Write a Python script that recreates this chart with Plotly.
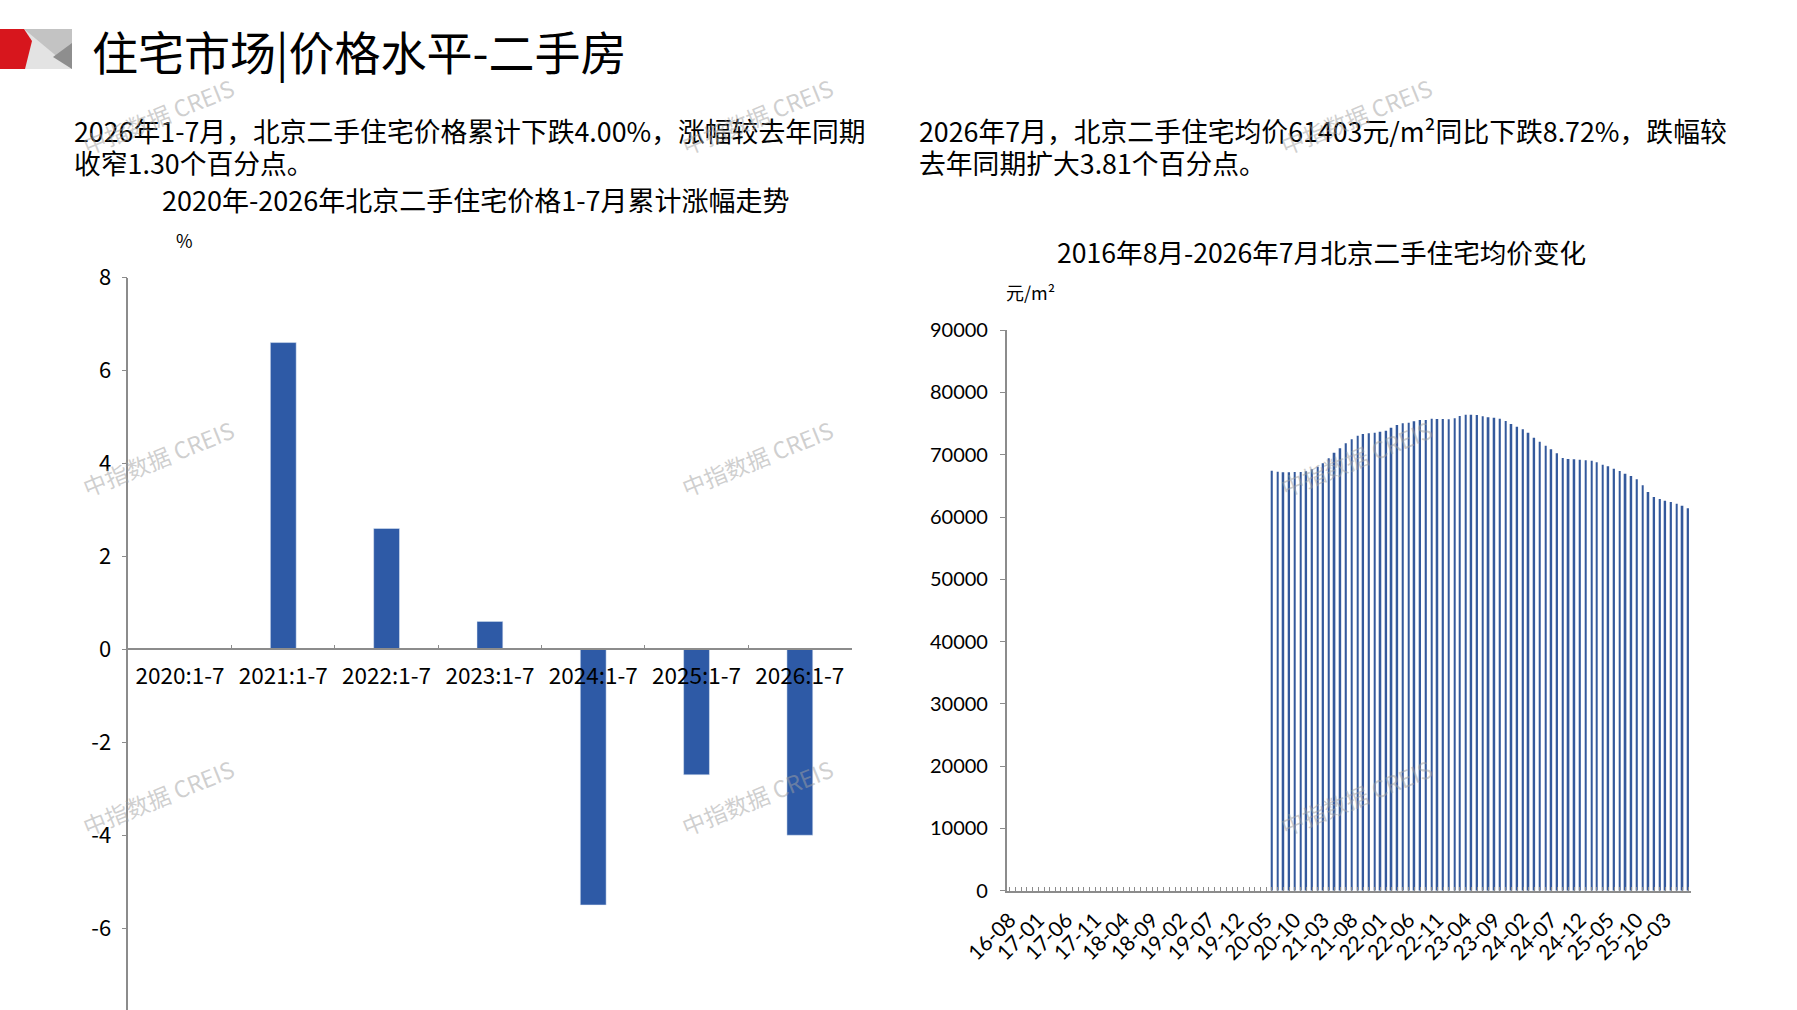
import pandas as pd
import plotly.graph_objects as go

W, H = 1797, 1010
CJK = "Noto Sans CJK SC"
NUM = "Lato"
BLUE = "#2E5AA6"
AXIS = "#8c8c8c"

# left chart: cumulative change of Beijing resale prices, Jan-Jul (%)
periods = ["2020:1-7", "2021:1-7", "2022:1-7", "2023:1-7", "2024:1-7", "2025:1-7", "2026:1-7"]
changes = [0.0, 6.6, 2.6, 0.6, -5.5, -2.7, -4.0]
pct_ticks = [-6, -4, -2, 0, 2, 4, 6, 8]
pct_labels = ["-6", "-4", "-2", "0", "2", "4", "6", "8"]

# right chart: monthly average resale price, 2016-08 .. 2026-07 (yuan/m2)
months = pd.date_range("2016-08-01", periods=120, freq="MS").strftime("%Y-%m").tolist()
prices = [None] * 46 + [
    67440, 67280, 67180, 67180, 67230, 67230, 67340, 67660, 68080, 68620,
    69420, 70330, 71030, 71830, 72470, 73060, 73330, 73440, 73540, 73700,
    73860, 74350, 74780, 75040, 75150, 75360, 75580, 75580, 75790, 75740,
    75740, 75690, 75850, 76220, 76430, 76430, 76380, 76170, 76010, 75950,
    75790, 75420, 74940, 74510, 74080, 73540, 72740, 72100, 71460, 70870,
    70230, 69480, 69320, 69260, 69210, 69100, 69050, 68780, 68410, 68140,
    67760, 67390, 66960, 66590, 66050, 65090, 64020, 63210, 62890, 62630,
    62410, 62140, 61820, 61403,
]

page_title = "住宅市场|价格水平-二手房"
left_text = ["2026年1-7月，北京二手住宅价格累计下跌4.00%，涨幅较去年同期",
             "收窄1.30个百分点。"]
right_text = ["2026年7月，北京二手住宅均价61403元/m²同比下跌8.72%，跌幅较",
              "去年同期扩大3.81个百分点。"]
left_title = "2020年-2026年北京二手住宅价格1-7月累计涨幅走势"
right_title = "2016年8月-2026年7月北京二手住宅均价变化"
watermark = "中指数据 CREIS"


def fx(p):
    return p / W


def fy(p):
    return 1 - p / H


fig = go.Figure()

fig.add_trace(go.Bar(x=periods, y=changes, marker_color=BLUE,
                     xaxis="x", yaxis="y", showlegend=False))
fig.add_trace(go.Bar(x=months, y=prices, marker_color="#34599c", marker_line_width=0,
                     width=0.3 * 30.44 * 86400000,
                     xaxis="x2", yaxis="y2", showlegend=False))

# left axes
y_lo, y_hi = -7.76, 8
y_top = fy(277.5)
fig.update_layout(
    xaxis=dict(
        domain=[fx(128.3), fx(851.5)], anchor="free",
        position=y_top * (0 - y_lo) / (y_hi - y_lo),
        type="category", showline=True, linecolor=AXIS, linewidth=1.5,
        ticks="inside", ticklen=4, tickcolor=AXIS, tickson="boundaries",
        showgrid=False, zeroline=False, ticklabelstandoff=7, automargin=False,
        tickfont=dict(family=CJK, size=22.5, color="#000"),
    ),
    yaxis=dict(
        domain=[0, y_top], range=[y_lo, y_hi], anchor="x",
        tickvals=pct_ticks, ticktext=pct_labels,
        showline=True, linecolor=AXIS, linewidth=1.5,
        ticks="outside", ticklen=5, tickcolor=AXIS,
        showgrid=False, zeroline=False, ticklabelstandoff=6, automargin=False,
        tickfont=dict(family=CJK, size=22, color="#000"),
    ),
    bargap=0.75,
)

# right axes
fig.update_layout(
    xaxis2=dict(
        domain=[fx(1006.7), fx(1691)], anchor="y2", type="date",
        range=["2016-07-16 12:00", "2026-07-16 12:00"],
        tick0="2016-08-01", dtick="M5", tickformat="%y-%m", tickangle=-45,
        showline=True, linecolor=AXIS, linewidth=1.5,
        ticks="inside", ticklen=4, tickcolor=AXIS,
        minor=dict(tick0="2016-08-01", dtick="M1", ticks="inside", ticklen=4,
                   tickcolor=AXIS, showgrid=False),
        showgrid=False, zeroline=False, ticklabelstandoff=7, automargin=False,
        tickfont=dict(family=NUM, size=21, color="#000"),
    ),
    yaxis2=dict(
        domain=[fy(890.7), fy(330.2)], anchor="x2", range=[0, 90000],
        dtick=10000, tickformat="d",
        showline=True, linecolor=AXIS, linewidth=1.5,
        ticks="outside", ticklen=5, tickcolor=AXIS,
        showgrid=False, zeroline=False, ticklabelstandoff=8, automargin=False,
        tickfont=dict(family=NUM, size=20, color="#000"),
    ),
)

ann = []


def text(t, x, y, size, xanchor="left", family=CJK, color="#000"):
    ann.append(dict(text=t, x=fx(x), y=fy(y), xref="paper", yref="paper",
                    xanchor=xanchor, yanchor="middle", showarrow=False,
                    font=dict(family=family, size=size, color=color)))


text(page_title, 90, 50, 46)
text(left_text[0], 72, 130, 26.8)
text(left_text[1], 72, 162, 26.8)
text(right_text[0], 917, 130, 26.8)
text(right_text[1], 917, 162, 26.8)
text(left_title, 476, 200, 27, xanchor="center")
text(right_title, 1321, 251, 26.6, xanchor="center")
text("%", 184, 240, 18, xanchor="center")
text("元/m²", 1030, 292, 18, xanchor="center")

for wx in (158, 757, 1356):
    for wy in (116, 458, 797):
        ann.append(dict(text=watermark, x=fx(wx), y=fy(wy), xref="paper", yref="paper",
                        xanchor="center", yanchor="middle",
                        showarrow=False, textangle=-22,
                        font=dict(family=CJK, size=23, color="rgba(160,160,160,0.5)")))

# corner logo
def poly(pts, color):
    path = "M " + " L ".join(f"{fx(a):.5f},{fy(b):.5f}" for a, b in pts) + " Z"
    return dict(type="path", path=path, xref="paper", yref="paper",
                fillcolor=color, line=dict(width=0), layer="above")


shapes = [
    poly([(24, 29), (72, 29), (72, 69), (24, 69)], "#e3e3e3"),
    poly([(24, 29), (72, 29), (72, 69)], "#c3c3c3"),
    poly([(53, 57), (72, 43), (72, 69)], "#8e8e8e"),
    poly([(0, 29), (24, 29), (32, 41), (25, 69), (0, 69)], "#d7161d"),
]

fig.update_layout(
    annotations=ann, shapes=shapes,
    width=W, height=H, autosize=False,
    margin=dict(l=0, r=0, t=0, b=0, autoexpand=False),
    paper_bgcolor="white", plot_bgcolor="white",
)

pin = ("document.body.style.margin='0';document.body.style.overflow='hidden';"
       "var d=document.getElementById('{plot_id}');"
       "d.style.position='fixed';d.style.left='0px';d.style.top='0px';")
fig.write_html("out.html", config={"displayModeBar": False}, post_script=pin)
